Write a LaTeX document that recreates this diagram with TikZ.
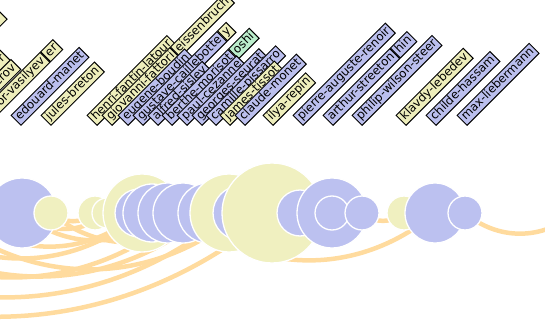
\documentclass[tikz,border=0pt]{standalone}
\usepackage{fontspec}
\newfontfamily\labelfont{DejaVu Sans}
\usepackage{tikz}
\usetikzlibrary{backgrounds}
\definecolor{PainterBlue}{HTML}{BCC1F0}
\definecolor{PainterYellow}{HTML}{F0F0C0}
\definecolor{LabelBlue}{HTML}{BBBFEE}
\definecolor{LabelYellow}{HTML}{EEEEBB}
\definecolor{LabelGreen}{HTML}{BBEECC}
\definecolor{ArcOrange}{HTML}{FFDB9E}
\tikzset{
    % Painter circle
    basedot/.style={
        circle,
        draw=white,
        line width=1.3pt,
        inner sep=0pt
    },
    bluedot/.style={basedot, fill=PainterBlue},
    yellowdot/.style={basedot, fill=PainterYellow},
    % Name label
    baselabel/.style={
        draw=black,
        line width=1pt,
        rotate=45,
        anchor=south west,
        inner xsep=2.5pt,
        inner ysep=1pt,
        text height=9pt,
        text depth=3pt,
        font=\labelfont\fontsize{11.8}{14}\selectfont
    },
    bluelabel/.style={baselabel, fill=LabelBlue},
    yellowlabel/.style={baselabel, fill=LabelYellow},
    greenlabel/.style={baselabel, fill=LabelGreen},
    % Link arc
    link/.style={
        draw=ArcOrange,
        line width=4.5pt,
        bend right=40
    }
}

\begin{document}
\begin{tikzpicture}[x=1pt, y=-1pt]
    \useasboundingbox (0,0) rectangle (545,320);

    % circles on the line
    \node[bluedot, minimum size=70pt] (manet) at (22,213) {};
    \node[yellowdot, minimum size=34pt] (breton) at (51,213) {};
    \node[yellowdot, minimum size=34pt] (fantin) at (95,213) {};
    \node[yellowdot, minimum size=30pt] (fattori) at (107,213) {};
    \node[yellowdot, minimum size=78pt] (weissen) at (142,213) {};
    \node[bluedot, minimum size=48pt] (boudin) at (139,213) {};
    \node[bluedot, minimum size=58pt] (caillebotte) at (152,213) {};
    \node[bluedot, minimum size=60pt] (sisley) at (168,213) {};
    \node[bluedot, minimum size=60pt] (morisot) at (183,213) {};
    \node[bluedot, minimum size=60pt] (cezanne) at (208,213) {};
    \node[yellowdot, minimum size=78pt] (tissot) at (229,213) {};
    \node[bluedot, minimum size=54pt] (monet) at (240,213) {};
    \node[yellowdot, minimum size=100pt] (repin) at (272,213) {};
    \node[bluedot, minimum size=46pt] (renoir) at (300,213) {};
    \node[bluedot, minimum size=70pt] (streeton) at (332,213) {};
    \node[bluedot, minimum size=34pt] (bluein) at (332,213) {};
    \node[bluedot, minimum size=34pt] (steer) at (362,213) {};
    \node[yellowdot, minimum size=34pt] (lebedev) at (404,213) {};
    \node[bluedot, minimum size=60pt] (hassam) at (435,213) {};
    \node[bluedot, minimum size=34pt] (liebermann) at (465,213) {};

    % ends outside the page
    \coordinate (farA) at (-40,213);
    \coordinate (farB) at (-100,213);
    \coordinate (farC) at (-160,213);
    \coordinate (farD) at (-220,213);
    \coordinate (farE) at (-280,213);
    \coordinate (farF) at (-60,213);
    \coordinate (farG) at (-130,213);
    \coordinate (farR) at (575,213);

    % links under the circles
    \begin{scope}[on background layer]
        \draw[link] (manet.center) to (fattori.center);
        \draw[link] (breton.center) to (fantin.center);
        \draw[link] (farA) to (boudin.center);
        \draw[link] (farB) to (weissen.center);
        \draw[link] (farC) to (morisot.center);
        \draw[link] (farD) to (tissot.center);
        \draw[link] (farE) to (repin.center);
        \draw[link] (manet.center) to (sisley.center);
        \draw[link] (breton.center) to (cezanne.center);
        \draw[link] (farF) to (monet.center);
        \draw[link] (farG) to (cezanne.center);
        \draw[link] (morisot.center) to (hassam.center);
        \draw[link] (steer.center) to (lebedev.center);
        \draw[link] (liebermann.center) to (farR);
    \end{scope}

    % labels
    \node[yellowlabel, text width=145pt] (toplbl) at (-99,126) {};
    \node[yellowlabel, text width=87pt, align=right] (rlbl) at (-55,126) {r};
    \node[yellowlabel, text width=74pt, align=right] (erovlbl) at (-35,126) {erov};
    \node[yellowlabel, text width=84pt, align=right] (vasilyevlbl) at (-13,126) {or-vasilyev};
    \node[yellowlabel] (erlbl) at (vasilyevlbl.south east) {er};
    \node[bluelabel] (manetlbl) at (21,126) {edouard-manet};
    \node[yellowlabel] (bretonlbl) at (51,126) {jules-breton};
    \node[yellowlabel] (fantinlbl) at (97,126) {henri-fantin-latour};
    \node[yellowlabel] (fattorilbl) at (112,126) {giovanni-fattori};
    \node[yellowlabel] (weissenlbl) at (fattorilbl.south east) {eissenbruch};
    \node[bluelabel] (boudinlbl) at (128,126) {eugene-boudin};
    \node[bluelabel] (caillebottelbl) at (143,126) {gustave-caillebotte};
    \node[yellowlabel] (ylbl) at (caillebottelbl.south east) {y};
    \node[bluelabel] (sisleylbl) at (158,126) {alfred-sisley};
    \node[bluelabel] (morisotlbl) at (172,126) {berthe-morisot};
    \node[greenlabel] (oshilbl) at (morisotlbl.south east) {oshi};
    \node[bluelabel] (cezannelbl) at (187,126) {paul-cezanne};
    \node[bluelabel] (seuratlbl) at (202,126) {georges-seurat};
    \node[bluelabel] (pissarrolbl) at (216,126) {camille-pissarro};
    \node[yellowlabel] (tissotlbl) at (230,126) {james-tissot};
    \node[bluelabel] (monetlbl) at (245,126) {claude-monet};
    \node[yellowlabel] (repinlbl) at (273,126) {ilya-repin};
    \node[bluelabel] (renoirlbl) at (303,126) {pierre-auguste-renoir};
    \node[bluelabel] (streetonlbl) at (333,126) {arthur-streeton};
    \node[bluelabel] (hinlbl) at (streetonlbl.south east) {hin};
    \node[bluelabel] (steerlbl) at (362,126) {philip-wilson-steer};
    \node[yellowlabel] (lebedevlbl) at (406,126) {klavdy-lebedev};
    \node[bluelabel] (hassamlbl) at (436,126) {childe-hassam};
    \node[bluelabel] (liebermannlbl) at (467,126) {max-liebermann};
\end{tikzpicture}
\end{document}
